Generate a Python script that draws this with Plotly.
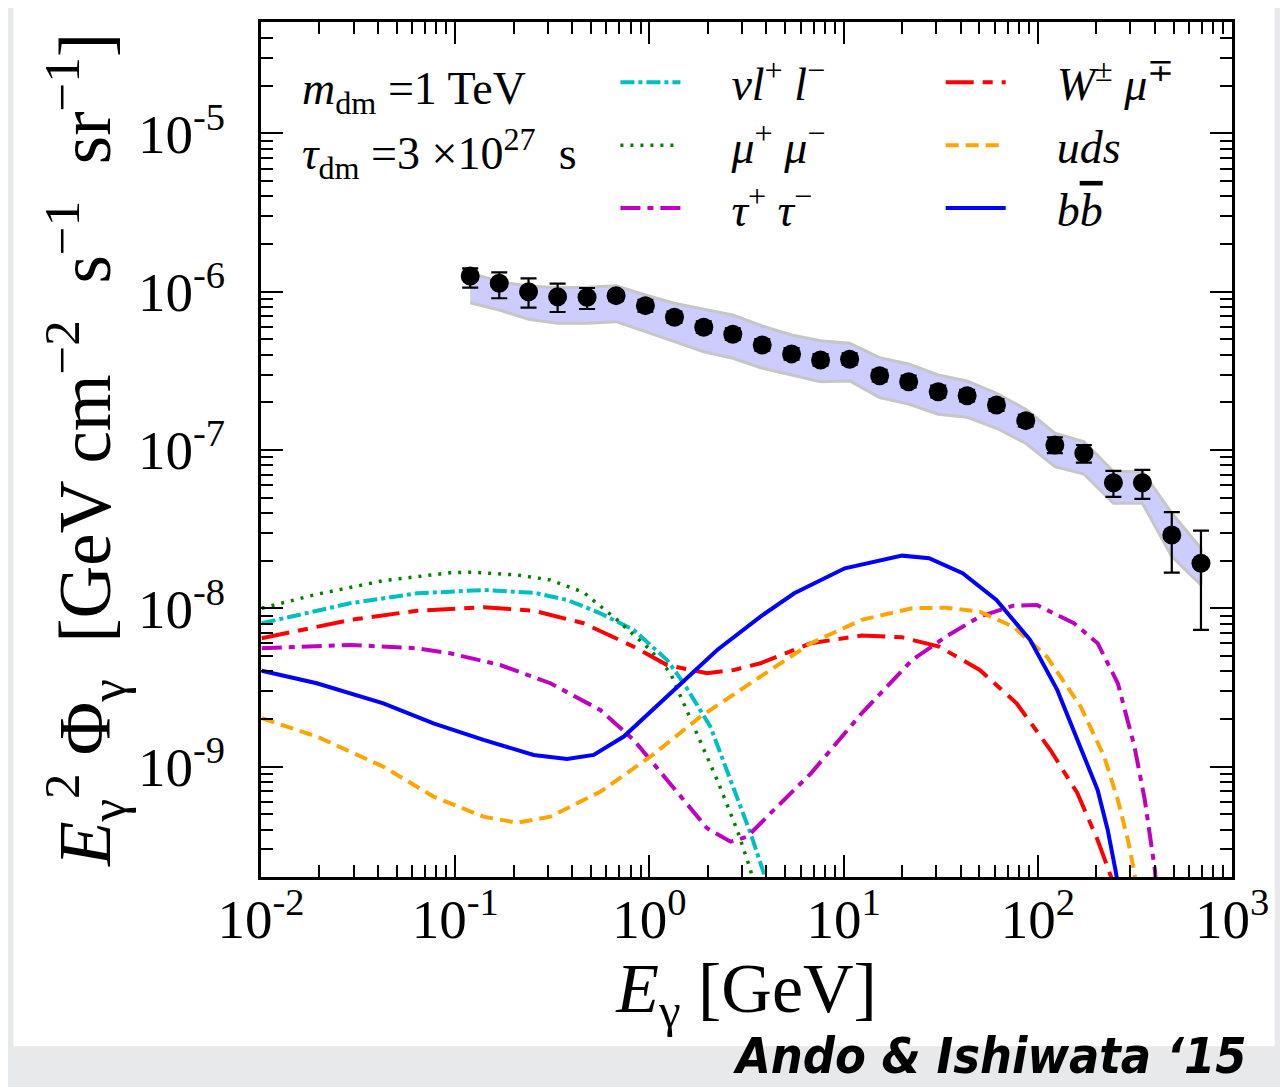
import plotly.graph_objects as go

# ---------------- data ----------------
# Fermi IGRB data points
energy_gev = [0.1195, 0.1686, 0.2386, 0.3368, 0.4775, 0.6737, 0.9537, 1.346, 1.905, 2.688,
              3.810, 5.395, 7.610, 10.74, 15.33, 21.63, 30.70, 43.26, 61.26, 86.7,
              122.4, 172.7, 245.1, 345.6, 489.6, 692.1]
flux_e6 = [1.258, 1.131, 1.001, 0.931, 0.923, 0.945, 0.817, 0.690, 0.597, 0.539,
           0.461, 0.405, 0.371, 0.3746, 0.295, 0.2704, 0.2338, 0.2206, 0.1927, 0.1534,
           0.1077, 0.0954, 0.0622, 0.0622, 0.0291, 0.01927]
flux_top_e6 = [1.403, 1.327, 1.216, 1.125, 1.056, 1.01, 0.89, 0.75, 0.65, 0.587,
               0.502, 0.441, 0.404, 0.408, 0.321, 0.295, 0.255, 0.240, 0.210, 0.167,
               0.1205, 0.1076, 0.0738, 0.0749, 0.0405, 0.0310]
flux_bot_e6 = [1.062, 0.910, 0.794, 0.745, 0.778, 0.88, 0.75, 0.635, 0.55, 0.496,
               0.424, 0.373, 0.341, 0.345, 0.271, 0.249, 0.215, 0.203, 0.177, 0.141,
               0.0955, 0.0832, 0.0506, 0.0491, 0.0168, 0.00731]
# systematic band
band_hi_e6 = [1.315, 1.159, 1.088, 1.061, 1.067, 1.093, 0.954, 0.846, 0.775, 0.713,
              0.608, 0.533, 0.491, 0.473, 0.3835, 0.350, 0.298, 0.273, 0.2285, 0.1810,
              0.1277, 0.1130, 0.0731, 0.0731, 0.0400, 0.0240]
band_lo_e6 = [0.853, 0.767, 0.670, 0.632, 0.632, 0.647, 0.560, 0.484, 0.418, 0.380,
              0.3286, 0.298, 0.2704, 0.2735, 0.2143, 0.1955, 0.1683, 0.1611, 0.1373, 0.1104,
              0.0785, 0.0706, 0.0461, 0.0461, 0.0212, 0.01405]

# model curves (log10 E [GeV], log10 E^2 Phi)
nul_logE = [-1.996, -1.541, -1.197, -0.854, -0.596, -0.424, -0.253, -0.081, 0.091, 0.177,
            0.314, 0.418, 0.521, 0.589, 0.62]
nul_logF = [-8.094, -7.968, -7.905, -7.884, -7.901, -7.947, -8.031, -8.136, -8.326, -8.473,
            -8.747, -9.084, -9.421, -9.673, -9.9]

mumu_logE = [-1.996, -1.713, -1.370, -1.026, -0.907, -0.682, -0.510, -0.340, -0.166, 0.005,
             0.108, 0.228, 0.349, 0.452, 0.521, 0.56]
mumu_logF = [-7.999, -7.911, -7.825, -7.775, -7.772, -7.789, -7.821, -7.898, -8.073, -8.263,
             -8.408, -8.747, -9.084, -9.400, -9.653, -9.9]

tautau_logE = [-1.996, -1.541, -1.197, -1.026, -0.768, -0.510, -0.253, -0.081, 0.091, 0.297,
               0.418, 0.504, 0.624, 0.832, 1.093, 1.353, 1.527, 1.701, 1.874, 1.995,
               2.186, 2.308, 2.412, 2.498, 2.551, 2.603, 2.62]
tautau_logF = [-8.252, -8.231, -8.252, -8.284, -8.358, -8.473, -8.642, -8.831, -9.084, -9.389,
               -9.474, -9.442, -9.294, -9.042, -8.663, -8.326, -8.179, -8.052, -7.983, -7.979,
               -8.094, -8.220, -8.473, -8.874, -9.210, -9.652, -9.9]

wmu_logE = [-1.996, -1.541, -1.197, -0.854, -0.596, -0.339, -0.081, 0.091, 0.297, 0.435,
            0.572, 0.832, 1.093, 1.301, 1.492, 1.701, 1.891, 2.065, 2.204, 2.308,
            2.377, 2.40]
wmu_logF = [-8.189, -8.073, -8.015, -7.993, -8.015, -8.094, -8.242, -8.358, -8.410, -8.389,
            -8.347, -8.220, -8.172, -8.183, -8.242, -8.389, -8.600, -8.895, -9.168, -9.463,
            -9.695, -9.9]

uds_logE = [-1.996, -1.713, -1.370, -1.112, -0.854, -0.682, -0.510, -0.253, 0.005, 0.263,
            0.572, 0.832, 1.093, 1.353, 1.527, 1.701, 1.874, 2.047, 2.221, 2.342,
            2.412, 2.464, 2.498, 2.52]
uds_logF = [-8.694, -8.810, -9.000, -9.189, -9.316, -9.354, -9.316, -9.158, -8.937, -8.684,
            -8.431, -8.220, -8.073, -7.999, -7.996, -8.021, -8.116, -8.305, -8.621, -8.937,
            -9.210, -9.463, -9.673, -9.9]

bb_logE = [-1.996, -1.713, -1.370, -1.112, -0.854, -0.596, -0.424, -0.287, -0.132, 0.091,
           0.349, 0.572, 0.746, 1.006, 1.301, 1.440, 1.613, 1.787, 1.961, 2.100,
           2.204, 2.308, 2.360, 2.403, 2.43]
bb_logF = [-8.394, -8.473, -8.600, -8.726, -8.831, -8.926, -8.951, -8.926, -8.810, -8.558,
           -8.263, -8.052, -7.905, -7.747, -7.667, -7.683, -7.778, -7.947, -8.200, -8.515,
           -8.831, -9.147, -9.400, -9.673, -9.9]

x_tick_vals = [1e-2, 1e-1, 1e0, 1e1, 1e2, 1e3]
x_tick_text = ["10<sup>-2</sup>", "10<sup>-1</sup>", "10<sup>0</sup>",
               "10<sup>1</sup>", "10<sup>2</sup>", "10<sup>3</sup>"]
y_tick_vals = [1e-9, 1e-8, 1e-7, 1e-6, 1e-5]
y_tick_text = ["10<sup>-9</sup>", "10<sup>-8</sup>", "10<sup>-7</sup>",
               "10<sup>-6</sup>", "10<sup>-5</sup>"]

# ---------------- figure ----------------
SERIF = "Liberation Serif, Times New Roman, DejaVu Serif, serif"
SP = "\u00a0" * 4

def pw(vals):
    return [10 ** v for v in vals]

e6 = lambda arr: [v * 1e-6 for v in arr]
flux = e6(flux_e6)
ftop = e6(flux_top_e6)
fbot = e6(flux_bot_e6)
err_plus = [t - f for t, f in zip(ftop, flux)]
err_minus = [f - b for f, b in zip(flux, fbot)]

fig = go.Figure()

# band
fig.add_trace(go.Scatter(
    x=energy_gev + energy_gev[::-1],
    y=e6(band_hi_e6) + e6(band_lo_e6)[::-1],
    fill="toself", fillcolor="#ccccff", mode="lines",
    line=dict(color="#c6c6c6", width=3),
    showlegend=False, hoverinfo="skip"))

curves = [
    ("<i>νl</i><sup>+</sup> <i>l</i><sup>−</sup>", nul_logE, nul_logF, "#00bfbf", "14px,4px,4px,4px", 4, "legend"),
    ("<i>μ</i><sup>+</sup> <i>μ</i><sup>−</sup>", mumu_logE, mumu_logF, "#008000", "3px,7px", 3.5, "legend"),
    ("<i>τ</i><sup>+</sup> <i>τ</i><sup>−</sup>", tautau_logE, tautau_logF, "#bf00bf", "20px,7px,6px,7px", 4, "legend"),
    ("<i>W</i><sup>±</sup> <i>μ</i><sup>∓</sup>", wmu_logE, wmu_logF, "#ff0000", "28px,9px,10px,9px", 4, "legend2"),
    ("<i>uds</i>", uds_logE, uds_logF, "#ffa500", "13px,7px", 4, "legend2"),
    ("<i>b</i><span style='text-decoration:overline'><i>b</i></span>", bb_logE, bb_logF, "#0000ff", "solid", 4, "legend2"),
]
for i, (name, lx, ly, col, dash, w, leg) in enumerate(curves):
    fig.add_trace(go.Scatter(
        x=pw(lx), y=pw(ly), mode="lines", name=SP + name,
        line=dict(color=col, width=w, dash=dash),
        legend=leg, legendgroup=f"g{i}"))

# data points
fig.add_trace(go.Scatter(
    x=energy_gev, y=flux, mode="markers", showlegend=False,
    marker=dict(color="black", size=19, symbol="circle"),
    error_y=dict(type="data", symmetric=False, array=err_plus, arrayminus=err_minus,
                 color="black", thickness=2.2, width=8)))

axis_common = dict(
    type="log", showgrid=False, zeroline=False,
    showline=True, linecolor="black", linewidth=3, mirror="allticks",
    ticks="inside", ticklen=22, tickwidth=2, tickcolor="black",
    tickfont=dict(family=SERIF, size=55, color="black"),
)

x_minor = [m * 10.0 ** k for k in range(-2, 3) for m in range(2, 10)]
y_minor = [m * 10.0 ** k for k in range(-10, -4) for m in range(2, 10)]

fig.update_xaxes(
    **axis_common, range=[-2, 3], tickmode="array",
    tickvals=x_tick_vals, ticktext=x_tick_text, ticklabelstandoff=-8,
    minor=dict(ticks="inside", ticklen=12, tickwidth=2, tickcolor="black",
               tickmode="array", tickvals=x_minor, showgrid=False),
    title=dict(text="<i>E</i><sub>γ</sub> [GeV]", standoff=6,
               font=dict(family=SERIF, size=70, color="black")))
fig.update_yaxes(
    **axis_common, range=[-9.697, -4.296], tickmode="array",
    tickvals=y_tick_vals, ticktext=y_tick_text, ticklabelstandoff=22,
    minor=dict(ticks="inside", ticklen=12, tickwidth=2, tickcolor="black",
               tickmode="array", tickvals=y_minor, showgrid=False),
    title=dict(text="<i>E</i><sub>γ</sub><sup>2</sup> Φ<sub>γ</sub>  [GeV cm<sup>−2</sup>  s<sup>−1</sup>  sr<sup>−1</sup>]",
               standoff=4, font=dict(family=SERIF, size=73, color="black")))

legend_common = dict(
    font=dict(family=SERIF, size=46, color="black"),
    bgcolor="rgba(0,0,0,0)", borderwidth=0,
    xanchor="left", yanchor="top", tracegroupgap=0, itemwidth=60,
)
# body margin of the page is 8 px: the margins below compensate it
fig.update_layout(
    width=1288, height=1087,
    margin=dict(l=253, r=64, t=14, b=218, autoexpand=False),
    paper_bgcolor="#e8e9eb", plot_bgcolor="white",
    legend=dict(**legend_common, x=0.365, y=0.972),
    legend2=dict(**legend_common, x=0.70, y=0.972),
    shapes=[dict(type="rect", xref="paper", yref="paper",
                 x0=-0.255, x1=1.044, y0=-0.198, y1=1.023,
                 fillcolor="white", line=dict(width=0), layer="below")],
    annotations=[
        dict(text="<i>m</i><sub>dm</sub> =1 TeV", xref="paper", yref="paper",
             x=0.040, y=0.918, xanchor="left", yanchor="middle", showarrow=False,
             font=dict(family=SERIF, size=46, color="black")),
        dict(text="<i>τ</i><sub>dm</sub> =3 ×10<sup>27</sup>  s", xref="paper", yref="paper",
             x=0.040, y=0.846, xanchor="left", yanchor="middle", showarrow=False,
             font=dict(family=SERIF, size=46, color="black")),
        dict(text="<b><i>Ando &amp; Ishiwata ‘15</i></b>", xref="paper", yref="paper",
             x=1.0175, y=-0.209, xanchor="right", yanchor="middle", showarrow=False,
             font=dict(family="Liberation Sans Narrow, DejaVu Sans Condensed, Liberation Sans, sans-serif",
                       size=50, color="black")),
    ],
)

fig.write_html("out.html")
